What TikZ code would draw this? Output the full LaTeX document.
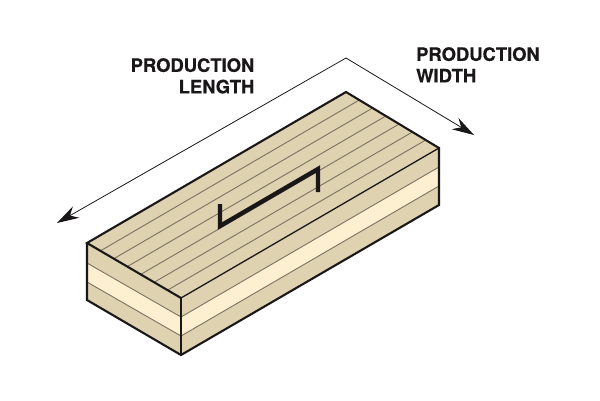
\documentclass[tikz,border=0pt]{standalone}
\usepackage{fontspec}
\setmainfont{TeX Gyre Heros}
\newfontfamily\lblfont[BoldFeatures={FakeBold=0.35}]{TeX Gyre Heros}
\usetikzlibrary{arrows.meta,calc}
\definecolor{woodtan}{HTML}{DFD2B0}
\definecolor{woodpale}{HTML}{FDF0D0}
\definecolor{grain}{HTML}{7A7260}
\definecolor{ink}{HTML}{1A1718}
\tikzset{
  face/.style={fill=woodtan,draw=none},
  palelayer/.style={fill=woodpale,draw=none},
  grainline/.style={draw=grain,line width=0.9pt},
  outline/.style={draw=ink,line width=2.1pt,line join=miter},
  edge/.style={draw=ink,line width=1.3pt},
  dim/.style={draw=ink,line width=0.8pt,-{Stealth[length=22pt,width=13pt]}},
  handle/.style={draw=ink,line width=4.4pt,line join=miter},
  lbl/.style={font=\lblfont\bfseries\fontsize{18.4}{21.5}\selectfont,text=ink,inner sep=0pt,align=left}
}
\begin{document}
\begin{tikzpicture}[x=1pt,y=-1pt]
\useasboundingbox (0,0) rectangle (600,400);
\fill[white] (0,0) rectangle (600,400);
% corners
\coordinate (A) at (87,243);
\coordinate (B) at (181,298);
\coordinate (C) at (439,148);
\coordinate (D) at (346,92);
\coordinate (Ab) at (87,300);
\coordinate (Bb) at (181,355);
\coordinate (Cb) at (439,205);
% faces
\fill[face] (A) -- (B) -- (C) -- (D) -- cycle;
\fill[face] (A) -- (B) -- (Bb) -- (Ab) -- cycle;
\fill[face] (B) -- (C) -- (Cb) -- (Bb) -- cycle;
% pale layer
\coordinate (L1) at (87,263);
\coordinate (L2) at (87,282);
\coordinate (F1) at (181,317);
\coordinate (F2) at (181,336);
\coordinate (R1) at (439,167);
\coordinate (R2) at (439,186);
\fill[palelayer] (L1) -- (F1) -- (R1) -- (R2) -- (F2) -- (L2) -- cycle;
\draw[grainline] (L1) -- (F1) -- (R1);
\draw[grainline] (L2) -- (F2) -- (R2);
% grain on top
\foreach \t in {1,...,6}{
  \draw[grainline] ($(A)!\t/7!(B)$) -- ($(D)!\t/7!(C)$);
}
% edges
\draw[edge] (B) -- (Bb);
\draw[edge] (B) -- (C);
\draw[outline] (B) -- (A) -- (D) -- (C) -- (Cb) -- (Bb) -- (Ab) -- (A);
% handle
\coordinate (H1) at (220,204);
\coordinate (H2) at (220,226);
\coordinate (H3) at (318,169);
\coordinate (H4) at (318,192);
\draw[handle] (H1) -- (H2) -- (H3) -- (H4);
% dimension arrows
\coordinate (Apex) at (346,58);
\coordinate (TipL) at (57,223);
\coordinate (TipR) at (474,135);
\draw[dim] (Apex) -- (TipL);
\draw[dim] (Apex) -- (TipR);
% labels
\node[lbl,align=right,anchor=north east] (len) at (254.5,58) {PRODUCTION\\LENGTH};
\node[lbl,align=left,anchor=north west] (wid) at (416,47) {PRODUCTION\\WIDTH};
\end{tikzpicture}
\end{document}
